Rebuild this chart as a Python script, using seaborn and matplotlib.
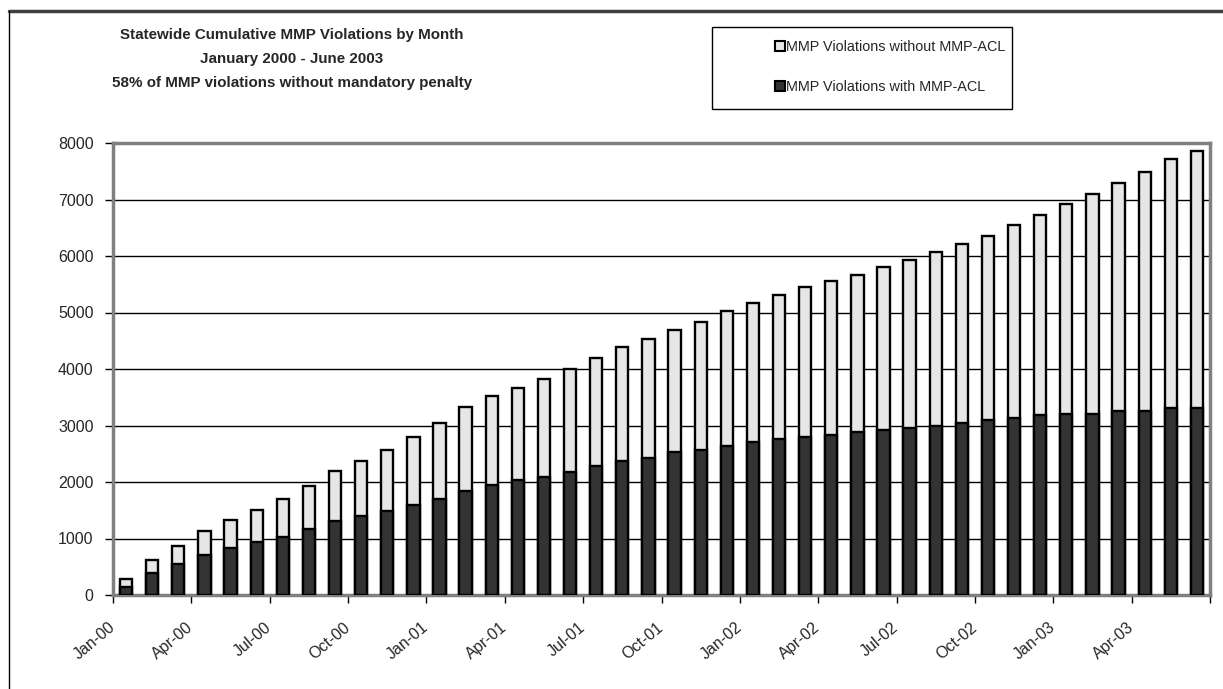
import numpy as np
import matplotlib
matplotlib.use("Agg")
import matplotlib.pyplot as plt
import matplotlib.patches as mpatches
import matplotlib.lines as mlines
import seaborn as sns
import pandas as pd

# cumulative counts, Jan 2000 .. Jun 2003
months = list(pd.date_range("2000-01-01", periods=42, freq="MS").strftime("%b-%y"))
total = [280, 620, 875, 1130, 1335, 1505, 1705, 1930, 2200, 2375, 2570, 2790, 3040, 3325,
         3515, 3670, 3830, 4005, 4195, 4390, 4535, 4695, 4825, 5025, 5175, 5310, 5450, 5560,
         5670, 5805, 5925, 6075, 6210, 6350, 6550, 6720, 6915, 7105, 7295, 7480, 7710, 7860]
with_acl = [150, 390, 550, 715, 835, 935, 1035, 1160, 1305, 1400, 1495, 1585, 1700, 1835,
            1940, 2040, 2085, 2175, 2275, 2380, 2430, 2525, 2560, 2645, 2705, 2765, 2795, 2840,
            2885, 2925, 2955, 3000, 3045, 3090, 3130, 3180, 3195, 3210, 3255, 3265, 3305, 3305]
tick_labels = months[::3]

df = pd.DataFrame({"month": months, "total": total, "with_acl": with_acl})

light = "#e6e6e6"
dark = "#333333"

sns.set_theme(style="white")
plt.rcParams["font.family"] = ["Liberation Sans", "DejaVu Sans"]

fig = plt.figure(figsize=(12.23, 6.89), dpi=100)
ax = fig.add_axes([113 / 1223, 94 / 689, 1097 / 1223, 452 / 689])

sns.barplot(data=df, x="month", y="total", color=light, saturation=1, width=0.47,
            edgecolor="black", linewidth=1.7, errorbar=None, ax=ax, zorder=3)
sns.barplot(data=df, x="month", y="with_acl", color=dark, saturation=1, width=0.47,
            edgecolor="black", linewidth=1.7, errorbar=None, ax=ax, zorder=4)

ax.set_xlim(-0.5, len(months) - 0.5)
ax.set_ylim(0, 8000)
ax.set_yticks(np.arange(0, 8001, 1000))
ax.set_xticks(np.arange(-0.5, len(months), 3))
ax.set_xticklabels(tick_labels + [""], rotation=40, ha="right", va="center",
                   rotation_mode="anchor")
ax.set_xlabel("")
ax.set_ylabel("")

ax.tick_params(axis="x", length=6, width=1, color="black", direction="out",
               pad=16, labelsize=11.5, bottom=True)
ax.tick_params(axis="y", length=6, width=1, color="black", direction="out",
               pad=8, labelsize=11.5, left=True)

ax.yaxis.grid(True, color="black", linewidth=1)
ax.set_axisbelow(True)
for s in ax.spines.values():
    s.set_visible(True)
    s.set_color("#808080")
    s.set_linewidth(2.5)

# chart area frame (top and left visible)
fig.add_artist(mlines.Line2D([9 / 1223, 1], [1 - 11 / 689, 1 - 11 / 689],
                             color="#404040", linewidth=2.5, transform=fig.transFigure))
fig.add_artist(mlines.Line2D([9 / 1223, 9 / 1223], [0, 1 - 11 / 689],
                             color="black", linewidth=1, transform=fig.transFigure))

# title lines
title_lines = ["Statewide Cumulative MMP Violations by Month",
               "January 2000 - June 2003",
               "58% of MMP violations without mandatory penalty"]
for i, t in enumerate(title_lines):
    fig.text(292 / 1223, 1 - (35 + 24 * i) / 689, t, ha="center", va="center",
             fontsize=10.9, fontweight="bold")

# legend box
fig.add_artist(mpatches.Rectangle((712 / 1223, 1 - 109 / 689), 300 / 1223, 82 / 689,
                                  transform=fig.transFigure, facecolor="white",
                                  edgecolor="black", linewidth=1))
handles = [mpatches.Patch(facecolor=light, edgecolor="black", linewidth=1.5),
           mpatches.Patch(facecolor=dark, edgecolor="black", linewidth=1.5)]
fig.legend(handles, ["MMP Violations without MMP-ACL", "MMP Violations with MMP-ACL"],
           loc="center", bbox_to_anchor=(890 / 1223, 1 - 67 / 689), frameon=False,
           fontsize=10.4, handlelength=0.7, handleheight=0.7,
           handletextpad=0.05, labelspacing=1.75, borderpad=0)

fig.savefig("out.png", dpi=100)
